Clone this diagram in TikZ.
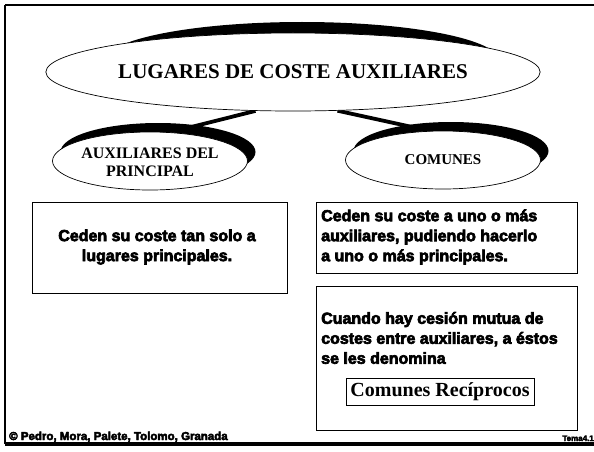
\documentclass[tikz,border=0pt]{standalone}
\usepackage{fontspec}
\setmainfont{Liberation Serif}
\newfontfamily\bodyfont{Liberation Sans Bold}[RawFeature={embolden=4}]
\usetikzlibrary{shapes.geometric}
\pgfdeclarelayer{background}
\pgfdeclarelayer{shadows}
\pgfdeclarelayer{lines}
\pgfsetlayers{background,shadows,lines,main}
\tikzset{
  frameline/.style={line width=#1, black},
  ellshadow/.style={ellipse, fill=black, inner sep=0pt},
  ellmain/.style={ellipse, fill=white, draw=black, line width=0.7pt, inner sep=0pt, align=center},
  titlefont/.style={font=\bfseries\fontsize{21}{23}\selectfont},
  subfont/.style={font=\bfseries\fontsize{16}{18}\selectfont},
  conn/.style={line width=3.8pt, black},
  txtbox/.style={rectangle, draw=black, line width=0.9pt, inner sep=0pt},
  bodytext/.style={inner sep=0pt, align=left, font=\bodyfont\fontsize{16}{20}\selectfont},
}
\begin{document}
\begin{tikzpicture}[x=1pt,y=-1pt]
\useasboundingbox (0,0) rectangle (594,452);
\begin{pgfonlayer}{background}
\fill[white] (0,0) rectangle (594,452);
\end{pgfonlayer}
% frame
\coordinate (f1) at (5,5);
\coordinate (f2) at (594,5);
\coordinate (f3) at (5,444);
\coordinate (f4) at (594,444);
\draw[frameline=1.4pt] (f2) -- (f1);
\draw[frameline=2.6pt] (f1) -- (f3);
\draw[frameline=3.4pt] (f3) -- (f4);
% ellipses
\begin{pgfonlayer}{shadows}
\node[ellshadow, minimum width=395pt, minimum height=78pt] (tops) at (302,61) {};
\node[ellshadow, minimum width=195pt, minimum height=58pt] (lfts) at (158,152) {};
\node[ellshadow, minimum width=195pt, minimum height=58pt] (rgts) at (451,151) {};
\end{pgfonlayer}
\node[ellmain, titlefont, minimum width=395pt, minimum height=78pt] (top) at (293,72) {LUGARES DE COSTE AUXILIARES};
\node[ellmain, minimum width=195pt, minimum height=58pt] (lft) at (150,161) {};
\node[subfont, align=center, inner sep=0pt] (lftt) at (150,162) {AUXILIARES DEL\\PRINCIPAL};
\node[ellmain, minimum width=195pt, minimum height=58pt, font=\bfseries\fontsize{15}{17}\selectfont] (rgt) at (443,160) {COMUNES};
% connectors (above the shadows, below the ellipses)
\begin{pgfonlayer}{lines}
\draw[conn] (top.226) -- (lft.55);
\draw[conn] (top.319) -- (rgt.114);
\end{pgfonlayer}
% boxes
\node[txtbox, minimum width=255pt, minimum height=91pt] (b1) at (159.5,247.5) {};
\node[bodytext, align=center] (t1) at (157,247) {Ceden su coste tan solo a\\lugares principales.};
\node[txtbox, minimum width=261pt, minimum height=71pt] (b2) at (446.5,237.5) {};
\node[bodytext, anchor=west] (t2) at (321,237) {Ceden su coste a uno o más\\auxiliares, pudiendo hacerlo\\a uno o más principales.};
\node[txtbox, minimum width=261pt, minimum height=144pt] (b3) at (446.5,358) {};
\node[bodytext, anchor=west] (t3) at (321,338) {Cuando hay cesión mutua de\\costes entre auxiliares, a éstos\\se les denomina};
\node[txtbox, minimum width=188pt, minimum height=27pt, font=\bfseries\fontsize{20}{22}\selectfont] (rec) at (440,391.5) {Comunes Recíprocos};
% footer
\node[anchor=base west, inner sep=0pt, font=\bodyfont\fontsize{11.5}{13}\selectfont] (foot) at (9,440) {\underline{© Pedro, Mora, Palete, Tolomo, Granada}};
\node[anchor=base east, inner sep=0pt, font=\bodyfont\fontsize{8}{9}\selectfont] (tema) at (594,441) {Tema4.1};
\end{tikzpicture}
\end{document}
